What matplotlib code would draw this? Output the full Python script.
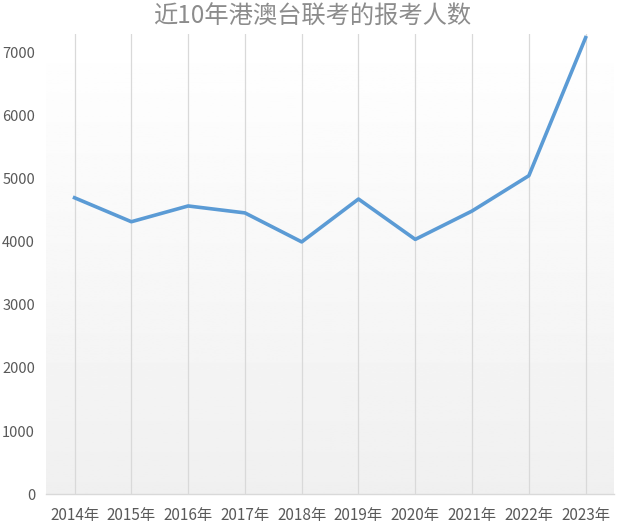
import matplotlib
matplotlib.use("Agg")
import matplotlib.pyplot as plt
import numpy as np

plt.rcParams['font.family'] = ['Noto Sans CJK SC', 'DejaVu Sans']

years = ["2014年", "2015年", "2016年", "2017年", "2018年", "2019年", "2020年", "2021年", "2022年", "2023年"]
applicants = [4700, 4320, 4570, 4460, 4000, 4680, 4040, 4490, 5050, 7240]
yticks = [0, 1000, 2000, 3000, 4000, 5000, 6000, 7000]

fig = plt.figure(figsize=(6.24, 5.29), dpi=100)
ax = fig.add_axes([0.074, 0.066, 0.910, 0.870])

x = np.arange(len(years))
ax.set_xlim(-0.5, len(years) - 0.5)
ax.set_ylim(0, 7300)

# gradient background
grad = np.linspace(0.94, 1.0, 256).reshape(-1, 1)
ax.imshow(grad, extent=[-0.5, len(years) - 0.5, 0, 7300], origin='lower',
          aspect='auto', cmap='gray', vmin=0, vmax=1, zorder=0)

for xi in x:
    ax.axvline(xi, color='#d9d9d9', lw=0.9, zorder=1)

ax.plot(x, applicants, color='#5b9bd5', lw=2.6, zorder=3, solid_joinstyle='round')

for s in ['top', 'right', 'left']:
    ax.spines[s].set_visible(False)
ax.spines['bottom'].set_color('#d9d9d9')
ax.spines['bottom'].set_linewidth(1.0)

ax.set_xticks(x)
ax.set_xticklabels(years, fontsize=11, color='#595959')
ax.set_yticks(yticks)
ax.set_yticklabels([str(v) for v in yticks], fontsize=10.5, color='#595959')
ax.tick_params(axis='both', length=0)
ax.tick_params(axis='x', pad=9)
ax.tick_params(axis='y', pad=8)

fig.text(0.5, 0.968, "近10年港澳台联考的报考人数", ha='center', va='center',
         fontsize=17.5, color='#8c8c8c', fontweight='light')

fig.savefig("out.png", dpi=100, facecolor='white')
